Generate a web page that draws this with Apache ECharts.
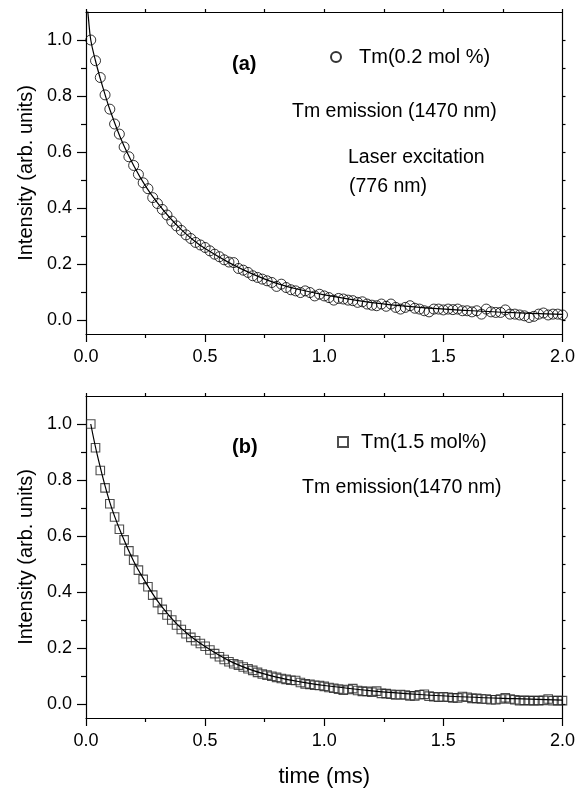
<!DOCTYPE html>
<html>
<head>
<meta charset="utf-8">
<script src="https://cdn.jsdelivr.net/npm/echarts@6/dist/echarts.min.js"></script>
<style>html,body{margin:0;padding:0;background:#fff;}#chart{width:578px;height:797px;}</style>
</head>
<body>
<div id="chart"></div>
<script>
// ---- data ----
const times = [0.02,0.04,0.06,0.08,0.10,0.12,0.14,0.16,0.18,0.20,
  0.22,0.24,0.26,0.28,0.30,0.32,0.34,0.36,0.38,0.40,
  0.42,0.44,0.46,0.48,0.50,0.52,0.54,0.56,0.58,0.60,
  0.62,0.64,0.66,0.68,0.70,0.72,0.74,0.76,0.78,0.80,
  0.82,0.84,0.86,0.88,0.90,0.92,0.94,0.96,0.98,1.00,
  1.02,1.04,1.06,1.08,1.10,1.12,1.14,1.16,1.18,1.20,
  1.22,1.24,1.26,1.28,1.30,1.32,1.34,1.36,1.38,1.40,
  1.42,1.44,1.46,1.48,1.50,1.52,1.54,1.56,1.58,1.60,
  1.62,1.64,1.66,1.68,1.70,1.72,1.74,1.76,1.78,1.80,
  1.82,1.84,1.86,1.88,1.90,1.92,1.94,1.96,1.98,2.00];

const intensityA = [1.000,0.926,0.866,0.804,0.753,0.700,0.664,0.618,0.583,0.552,
  0.520,0.490,0.469,0.437,0.416,0.395,0.375,0.353,0.336,0.320,
  0.304,0.291,0.277,0.268,0.259,0.247,0.235,0.226,0.215,0.207,
  0.205,0.184,0.178,0.170,0.158,0.152,0.146,0.140,0.134,0.120,
  0.128,0.116,0.108,0.104,0.098,0.104,0.098,0.086,0.092,0.086,
  0.080,0.071,0.077,0.075,0.071,0.069,0.063,0.065,0.057,0.053,
  0.051,0.057,0.049,0.057,0.045,0.039,0.045,0.051,0.042,0.039,
  0.033,0.029,0.039,0.039,0.036,0.039,0.037,0.039,0.033,0.033,
  0.029,0.033,0.021,0.039,0.029,0.027,0.027,0.036,0.021,0.021,
  0.018,0.015,0.009,0.013,0.021,0.025,0.018,0.021,0.021,0.018];

const intensityB = [1.000,0.915,0.834,0.772,0.715,0.668,0.624,0.586,0.547,0.514,
  0.478,0.445,0.419,0.389,0.362,0.338,0.318,0.300,0.282,0.266,
  0.251,0.238,0.226,0.216,0.206,0.193,0.180,0.169,0.159,0.151,
  0.144,0.139,0.132,0.126,0.120,0.113,0.107,0.103,0.099,0.095,
  0.091,0.088,0.085,0.084,0.077,0.072,0.070,0.067,0.066,0.063,
  0.059,0.056,0.053,0.049,0.052,0.055,0.048,0.045,0.045,0.042,
  0.046,0.038,0.037,0.035,0.032,0.034,0.032,0.029,0.029,0.033,
  0.035,0.028,0.026,0.024,0.026,0.024,0.022,0.022,0.027,0.024,
  0.020,0.020,0.018,0.018,0.015,0.015,0.018,0.022,0.018,0.015,
  0.012,0.013,0.012,0.012,0.012,0.013,0.018,0.012,0.012,0.012];

const fitTimesA = [0,0.01,0.02,0.04,0.06,0.08,0.10,0.15,0.20,0.25,0.30,0.35,0.40,0.45,0.50,0.60,0.70,0.80,0.90,1.00,1.20,1.40,1.60,1.80,2.00];
const fitA = [1.17,1.08,1.0,0.925,0.862,0.805,0.752,0.64,0.552,0.478,0.418,0.367,0.323,0.286,0.255,0.205,0.164,0.131,0.108,0.090,0.062,0.045,0.034,0.026,0.020];

const fitTimesB = [0.02,0.05,0.10,0.15,0.20,0.25,0.30,0.35,0.40,0.45,0.50,0.60,0.70,0.80,0.90,1.00,1.20,1.40,1.60,1.80,2.00];
const fitB = [1.0,0.88,0.72,0.605,0.51,0.435,0.368,0.315,0.27,0.235,0.205,0.155,0.12,0.096,0.079,0.066,0.047,0.034,0.025,0.019,0.014];

const xTickLabels = [0.0,0.5,1.0,1.5,2.0];
const yTickValues = [0,0.2,0.4,0.6,0.8,1.0];
const yMinorTickValues = [0.1,0.3,0.5,0.7,0.9];
const yRightTickValues = [0,0.1,0.2,0.3,0.4,0.5,0.6,0.7,0.8,0.9,1.0];

const nameA = 'Tm(0.2 mol %)';
const nameB = 'Tm(1.5 mol%)';

// ---- chart ----
const FONT = '"Liberation Sans", Arial, Helvetica, sans-serif';
const chart = echarts.init(document.getElementById('chart'), null, {renderer:'canvas'});
const lineStyle = {color:'#000', width:1.2};
const pairs = (xs, ys) => xs.map((x,i)=>[x, ys[i]]);

const grids = [
  {left:86, top:12, width:477, height:322},
  {left:86, top:396, width:477, height:322}
];

const xAxes = [], yAxes = [];
[0,1].forEach(g => {
  xAxes.push({
    gridIndex:g, type:'value', min:0, max:2, interval:0.5, position:'bottom',
    axisLine:{show:true, onZero:false, lineStyle},
    axisTick:{show:true, inside:false, length:8, lineStyle},
    minorTick:{show:true, splitNumber:2, length:4, lineStyle},
    splitLine:{show:false}, minorSplitLine:{show:false},
    axisLabel:{show:true, margin:14, fontSize:18, color:'#000', fontFamily:FONT,
      formatter: v => xTickLabels.indexOf(v) >= 0 ? v.toFixed(1) : ''},
    name: g===1 ? 'time (ms)' : '',
    nameLocation:'middle', nameGap:48,
    nameTextStyle:{fontSize:22, color:'#000', fontFamily:FONT}
  });
  xAxes.push({
    gridIndex:g, type:'value', min:0, max:2, interval:0.25, position:'top',
    axisLine:{show:true, onZero:false, lineStyle},
    axisTick:{show:true, inside:false, length:3, lineStyle},
    axisLabel:{show:false}, splitLine:{show:false}
  });
  yAxes.push({
    gridIndex:g, type:'value', min:-0.05, max:1.1, position:'left',
    axisLine:{show:true, onZero:false, lineStyle},
    axisTick:{show:true, inside:false, length:9, lineStyle, customValues:yTickValues},
    axisLabel:{show:true, margin:14, fontSize:18, color:'#000', fontFamily:FONT,
      customValues:yTickValues, formatter: v => v.toFixed(1)},
    splitLine:{show:false},
    name:'Intensity (arb. units)', nameLocation:'middle', nameGap:50,
    nameTextStyle:{fontSize:20, color:'#000', fontFamily:FONT}
  });
  yAxes.push({
    gridIndex:g, type:'value', min:-0.05, max:1.1, position:'left',
    axisLine:{show:false},
    axisTick:{show:true, inside:false, length:5, lineStyle, customValues:yMinorTickValues},
    axisLabel:{show:false, customValues:yMinorTickValues}, splitLine:{show:false}
  });
  yAxes.push({
    gridIndex:g, type:'value', min:-0.05, max:1.1, position:'right',
    axisLine:{show:true, onZero:false, lineStyle},
    axisTick:{show:true, inside:false, length:3, lineStyle, customValues:yRightTickValues},
    axisLabel:{show:false, customValues:yRightTickValues}, splitLine:{show:false}
  });
});

const txt = (x, y, text, size, bold) => ({
  type:'text', x, y,
  style:{text, fill:'#000', font:(bold?'bold ':'') + size + 'px ' + FONT, textVerticalAlign:'middle', textAlign:'left'}
});

const option = {
  backgroundColor:'#fff',
  animation:false,
  grid: grids,
  xAxis: xAxes,
  yAxis: yAxes,
  legend: [
    {data:[nameA], left:330, top:47, padding:0, itemWidth:10, itemHeight:10,
     textStyle:{fontSize:20, color:'#000', fontFamily:FONT, padding:[0,0,0,13]}},
    {data:[nameB], left:337, top:432, padding:0, itemWidth:10, itemHeight:10,
     textStyle:{fontSize:20, color:'#000', fontFamily:FONT, padding:[0,0,0,8]}}
  ],
  graphic: [
    txt(232, 64, '(a)', 20, true),
    txt(292, 112, 'Tm emission (1470 nm)', 19.5),
    txt(348, 158, 'Laser excitation', 19.5),
    txt(349, 187, '(776 nm)', 19.5),
    txt(232, 447, '(b)', 20, true),
    txt(302, 488, 'Tm emission(1470 nm)', 19.5)
  ],
  series: [
    {name:nameA, type:'scatter', xAxisIndex:0, yAxisIndex:0, symbol:'circle', symbolSize:10,
     itemStyle:{color:'rgba(0,0,0,0)', borderColor:'#000', borderWidth:1}, data:pairs(times, intensityA), z:2},
    {name:'fitA', type:'line', xAxisIndex:0, yAxisIndex:0, showSymbol:false, smooth:0.4,
     lineStyle:{color:'#000', width:1.2}, data:pairs(fitTimesA, fitA), z:3},
    {name:nameB, type:'scatter', xAxisIndex:2, yAxisIndex:3, symbol:'rect', symbolSize:8.5,
     itemStyle:{color:'rgba(0,0,0,0)', borderColor:'#222', borderWidth:1.1}, data:pairs(times, intensityB), z:2},
    {name:'fitB', type:'line', xAxisIndex:2, yAxisIndex:3, showSymbol:false, smooth:0.4,
     lineStyle:{color:'#000', width:1.2}, data:pairs(fitTimesB, fitB), z:3}
  ]
};
chart.setOption(option);
</script>
</body>
</html>
